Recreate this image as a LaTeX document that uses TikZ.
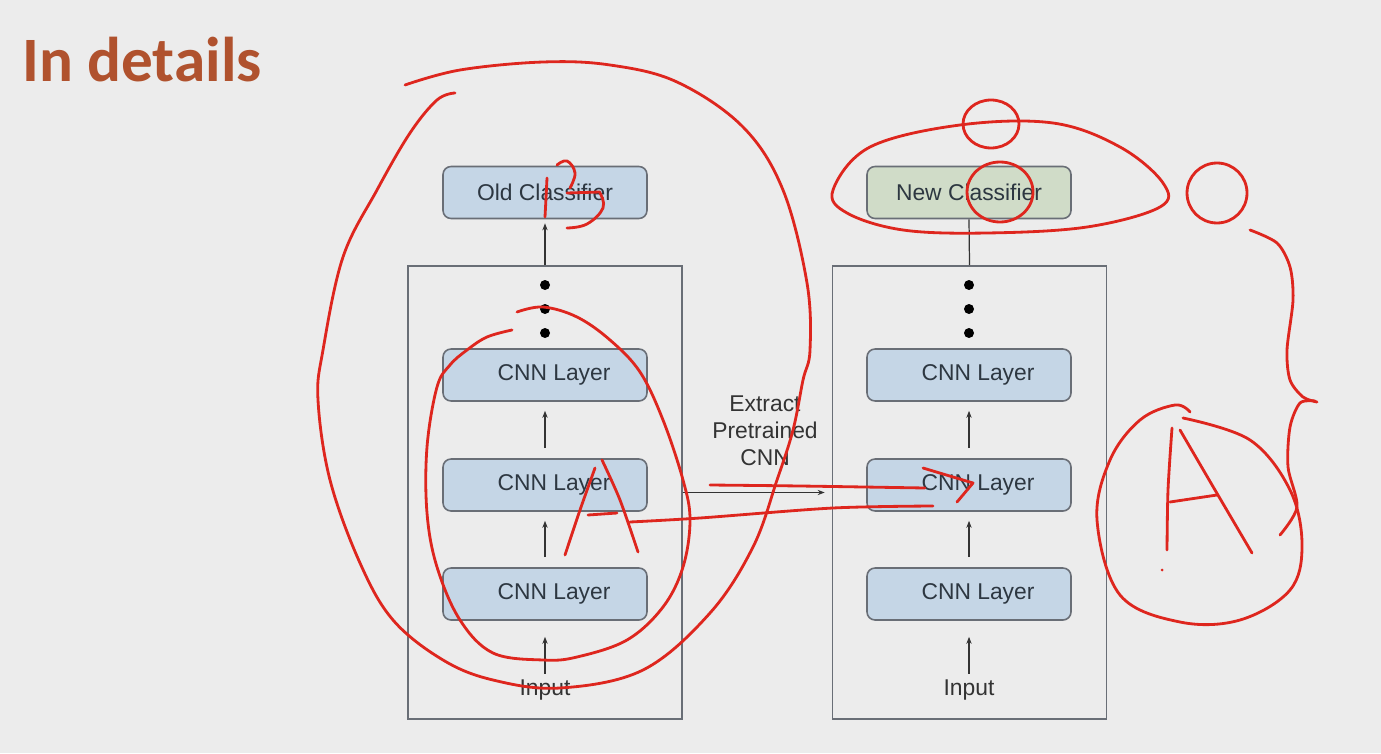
\documentclass[tikz,border=0pt]{standalone}
\usepackage{fontspec}
\setmainfont{Liberation Sans}
\newfontfamily\titlefont{Carlito}
\usetikzlibrary{positioning, arrows.meta}
\definecolor{slidebg}{RGB}{236,236,236}
\definecolor{titlecol}{RGB}{176,82,46}
\definecolor{layerblue}{RGB}{197,214,230}
\definecolor{layergreen}{RGB}{208,220,200}
\definecolor{edgegray}{RGB}{105,110,118}
\definecolor{inkred}{RGB}{222,38,30}
\definecolor{txt}{RGB}{45,55,65}

\begin{document}
\begin{tikzpicture}[x=0.02cm, y=-0.02cm,
  cls/.style={draw=edgegray, line width=0.9pt, fill=layerblue, rounded corners=0.16cm,
    minimum width=4.08cm, minimum height=1.04cm, text=txt, font=\fontsize{13}{15}\selectfont},
  layer/.style={cls, execute at begin node=\hspace*{0.36cm}},
  frame/.style={draw=edgegray, line width=1pt, minimum width=5.48cm, minimum height=9.06cm},
  flow/.style={-{Stealth[length=4pt,width=3pt]}, line width=0.7pt, draw=black!80},
  lbl/.style={text=black!80, font=\fontsize{13}{15.3}\selectfont, align=center},
  scribble/.style={draw=inkred, line width=1.6pt, line cap=round, line join=round}]

  \fill[slidebg] (0,0) rectangle (1381,753);
  \useasboundingbox (0,0) rectangle (1381,753);

  \node[anchor=base west, inner sep=0, text=titlecol,
    font=\titlefont\bfseries\fontsize{36}{40}\selectfont] (title) at (22,82) {In details};

  % old network
  \node[frame] (lbox) at (545,492.5) {};
  \node[cls] (oldcls) at (545,192.5) {Old Classifier};
  \node[layer] (l3) at (545,375) {CNN Layer};
  \node[layer] (l2) at (545,485) {CNN Layer};
  \node[layer] (l1) at (545,594) {CNN Layer};
  \node[lbl] (lin) at (545,690) {Input};
  \foreach \y in {285,309,333} \fill (545,\y) circle (0.1cm);

  % new network
  \node[frame] (rbox) at (969.5,492.5) {};
  \node[cls, fill=layergreen] (newcls) at (969,192.5) {New Classifier};
  \node[layer] (r3) at (969,375) {CNN Layer};
  \node[layer] (r2) at (969,485) {CNN Layer};
  \node[layer] (r1) at (969,594) {CNN Layer};
  \node[lbl] (rin) at (969,690) {Input};
  \foreach \y in {285,309,333} \fill (969,\y) circle (0.1cm);

  \node[lbl] (extract) at (765,431) {Extract\\Pretrained\\CNN};

  \draw[flow, shorten >=0.08cm] (lbox.north) -- (oldcls.south);
  \draw[line width=0.7pt, black!80] (rbox.north) -- (newcls.south);
  \draw[flow, shorten <=0.2cm, shorten >=0.18cm] (l1) -- (l2);
  \draw[flow, shorten <=0.2cm, shorten >=0.18cm] (l2) -- (l3);
  \draw[flow, shorten >=0.32cm] (lin) -- (l1);
  \draw[flow, shorten <=0.2cm, shorten >=0.18cm] (r1) -- (r2);
  \draw[flow, shorten <=0.2cm, shorten >=0.18cm] (r2) -- (r3);
  \draw[flow, shorten >=0.32cm] (rin) -- (r1);
  \draw[flow, shorten >=0.14cm] (lbox.east) -- (rbox.west);

  % red pen notes
  \draw[scribble] plot[smooth, tension=0.6] coordinates {(405,85) (460,70) (543,62) (610,65)
    (677,82) (743,127) (783,190) (807,283) (810,350) (803,380) (793,430) (777,480) (753,547)
    (710,613) (643,670) (560,688) (493,680) (443,660) (393,620) (360,563) (330,480) (318,400)
    (323,350) (343,257) (377,190) (410,133) (437,100) (455,93)};
  \draw[scribble] plot[smooth, tension=0.6] coordinates {(517,312) (543,307) (577,317) (610,340)
    (640,372) (663,420) (683,480) (690,520) (683,567) (663,607) (627,640) (577,657) (543,660)
    (493,653) (460,620) (437,567) (427,513) (427,447) (437,387) (450,365) (467,350) (487,337) (512,330)};
  \draw[scribble] plot[smooth] coordinates {(547,178) (546,198) (545,217)};
  \draw[scribble] plot[smooth, tension=0.7] coordinates {(557,165) (567,161) (575,173) (570,188)};
  \draw[scribble] (567,193) -- (600,192);
  \draw[scribble] plot[smooth, tension=0.7] coordinates {(600,193) (603,208) (587,224) (567,228)};
  \draw[scribble] plot[smooth] coordinates {(595,468) (580,510) (565,555)};
  \draw[scribble] plot[smooth] coordinates {(602,460) (620,500) (638,552)};
  \draw[scribble] (588,515) -- (617,513);
  \draw[scribble] plot[smooth] coordinates {(630,522) (700,518) (833,508) (933,506)};
  \draw[scribble] plot[smooth] coordinates {(710,485) (800,486) (925,488)};
  \draw[scribble] (923,468) -- (973,483) -- (957,502);
  \draw[scribble] plot[smooth cycle, tension=0.6] coordinates {(833,190) (870,147) (960,125)
    (1053,123) (1120,147) (1163,183) (1160,207) (1087,227) (987,233) (903,230) (847,213)};
  \draw[scribble] (991,124) ellipse [x radius=0.56cm, y radius=0.48cm];
  \draw[scribble] (1000,192) ellipse [x radius=0.66cm, y radius=0.6cm];
  \draw[scribble] (1217,193) ellipse [x radius=0.6cm, y radius=0.6cm];
  \draw[scribble] plot[smooth] coordinates {(1250,230) (1277,243) (1290,267) (1293,300)
    (1287,350) (1290,380) (1303,397) (1317,402)};
  \draw[scribble] plot[smooth] coordinates {(1315,401) (1300,403) (1290,427) (1288,467)
    (1297,507) (1280,535)};
  \draw[scribble] plot[smooth, tension=0.6] coordinates {(1183,418) (1250,440) (1290,490)
    (1302,545) (1290,590) (1240,620) (1180,622) (1120,595) (1097,520) (1110,460) (1140,420)
    (1175,405) (1190,412)};
  \draw[scribble] plot[smooth] coordinates {(1172,428) (1168,490) (1167,550)};
  \draw[scribble] plot[smooth] coordinates {(1180,430) (1215,490) (1252,553)};
  \draw[scribble] (1170,502) -- (1217,495);
  \fill[inkred] (1162,570) circle (0.03cm);
\end{tikzpicture}
\end{document}
